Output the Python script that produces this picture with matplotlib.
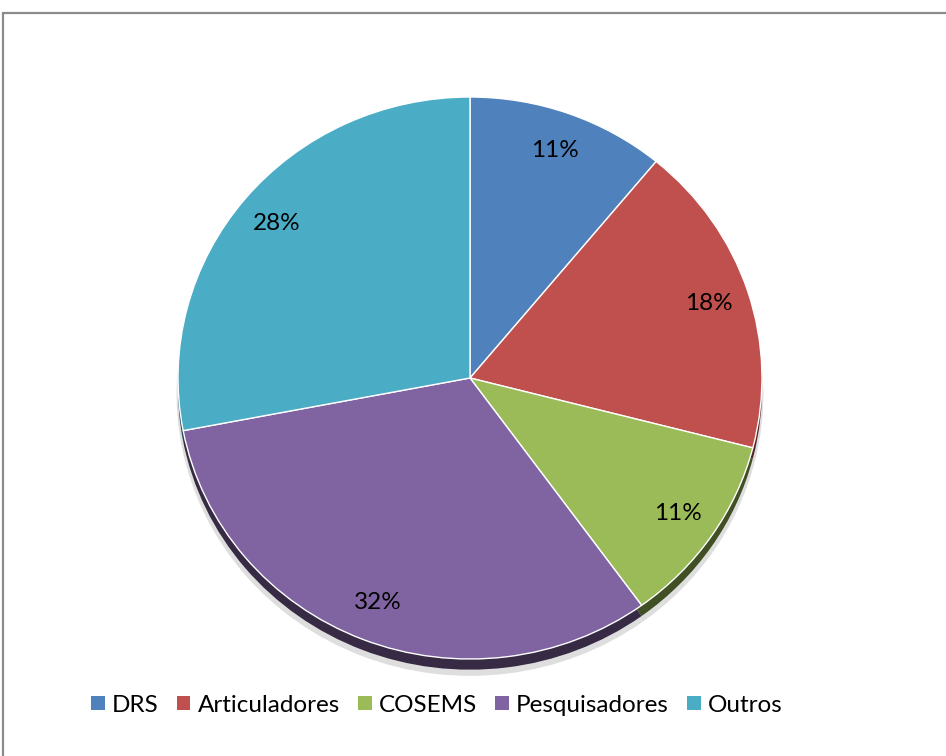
"""Pie chart of respondents by group, with a drop edge under the disc."""
import matplotlib
matplotlib.use("Agg")
import matplotlib.pyplot as plt
from matplotlib.colors import to_rgb
from matplotlib.patches import Rectangle, Patch

# Data
groups = ["DRS", "Articuladores", "COSEMS", "Pesquisadores", "Outros"]
shares = [11, 18, 11, 32, 28]
colors = ["#4F81BD", "#C0504D", "#9BBB59", "#8064A2", "#4BACC6"]

plt.rcParams["font.family"] = ["Lato", "DejaVu Sans"]


def darken(c, f=0.42):
    r, g, b = to_rgb(c)
    return (r * f, g * f, b * f)


fig = plt.figure(figsize=(9.46, 7.56), dpi=100)

# Outer frame (top and left edges are visible)
fig.add_artist(Rectangle((3 / 946, -0.1), 1.2, (756 - 13) / 756 + 0.1,
                         transform=fig.transFigure, fill=False,
                         edgecolor="#8a8a8a", linewidth=1.6))

# Axes placed so the disc is slightly wider than tall
lim = 1.1
rx, ry = 292, 281
cx, cy = 470, 378
ax = fig.add_axes([(cx - rx * lim) / 946, (756 - cy - ry * lim) / 756,
                   2 * rx * lim / 946, 2 * ry * lim / 756])

# Soft grey halo and dark edge beneath the pie
ax.pie(shares, colors=["#dedede"] * 5, startangle=90, counterclock=False,
       center=(0, -0.055), radius=1.005, wedgeprops=dict(linewidth=0))
ax.pie(shares, colors=[darken(c) for c in colors], startangle=90,
       counterclock=False, center=(0, -0.038),
       wedgeprops=dict(linewidth=0))

wedges, texts = ax.pie(shares, colors=colors, startangle=90,
                       counterclock=False,
                       labels=[f"{v}%" for v in shares], labeldistance=0.86,
                       wedgeprops=dict(edgecolor="white", linewidth=1.0),
                       textprops=dict(fontsize=17.5, color="black"))
for t in texts:
    t.set_horizontalalignment("center")
    t.set_verticalalignment("center")

ax.set_aspect("auto")
ax.set_xlim(-lim, lim)
ax.set_ylim(-lim, lim)
ax.axis("off")

handles = [Patch(facecolor=c, edgecolor="none") for c in colors]
fig.legend(handles, groups, loc="center", bbox_to_anchor=(437 / 946, 1 - 705 / 756),
           ncol=5, frameon=False, fontsize=17.5, handlelength=0.55, handleheight=0.55,
           handletextpad=0.3, columnspacing=0.75)

fig.savefig("out.png", dpi=100, facecolor="white")
